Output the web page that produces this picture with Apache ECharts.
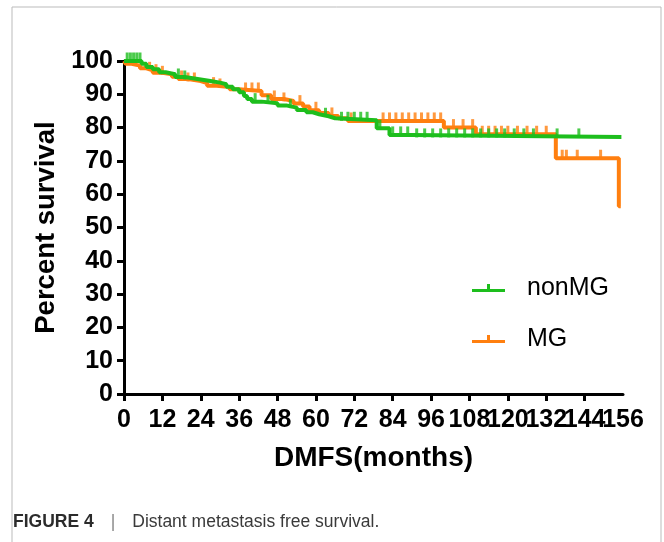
<!DOCTYPE html>
<html>
<head>
<meta charset="utf-8">
<script src="https://cdn.jsdelivr.net/npm/echarts@6/dist/echarts.min.js"></script>
<style>
html,body{margin:0;padding:0;background:#fff;}
#chart{width:664px;height:542px;}
</style>
</head>
<body>
<div id="chart"></div>
<script>
// ---- data ----
const nonMGTimes = [0, 5.5, 7, 9, 11, 13, 16, 19, 23, 27, 30, 32, 34, 36, 37.5, 38.5, 40, 43, 48, 51, 54, 57, 59, 61, 64, 66, 79, 83, 90, 155.5];
const nonMGSurv  = [100, 99.2, 98.2, 97.5, 96.6, 96, 95.2, 94.6, 94, 93.5, 93, 92.3, 91.5, 90.6, 89.5, 88.6, 87.8, 87.3, 86.6, 86, 85.3, 84.6, 84, 83.4, 82.8, 82.2, 79.8, 77.8, 77.2, 77.2];
const nonMGCensor = [1, 2, 3, 4, 5, 17, 19, 41, 45, 52, 63, 68, 70, 72, 74, 76, 80, 84, 86.5, 88.7, 91.5, 94, 96.5, 99, 101.5, 104, 106.5, 109, 111.5, 114, 116.5, 119, 122, 125, 128, 135.4, 142.2];

const mgTimes = [0, 0.5, 2, 5, 7, 9, 12, 15, 17, 20, 24, 26, 29, 33, 36, 43, 46, 50, 53, 56, 58, 61, 64, 67, 70, 100, 110, 135, 154.7, 155.3];
const mgSurv  = [100, 99.2, 98.6, 97.8, 97.2, 96.5, 96, 95.3, 94.6, 94, 93.4, 92.6, 92.2, 91.5, 91, 89.7, 88.6, 88, 87.2, 86.3, 85.2, 84.4, 83.5, 82.8, 82.0, 80.0, 78, 70.8, 56.4, 56.4];
const mgCensor = [8, 10, 12, 18, 20, 22, 28, 30, 38, 40, 42, 47, 50, 55, 60, 65, 71, 81, 83, 85, 87, 89, 91, 93, 95, 97, 99, 103, 106, 109, 112, 114, 116, 118, 120, 123, 126, 129, 132, 137, 138.3, 141.7, 149];

const seriesNames = ['nonMG', 'MG'];
const xMin = 0, xMax = 156, xStep = 12;
const yMin = 0, yMax = 100, yStep = 10;
const xTitle = 'DMFS(months)';
const yTitle = 'Percent survival';
const captionBold = 'FIGURE 4';
const captionText = 'Distant metastasis free survival.';

const GREEN = '#1DBE1D';
const ORANGE = '#FF7F0F';

function pairs(ts, ss) { return ts.map((t, i) => [t, ss[i]]); }
function survAt(ts, ss, t) {
  let v = ss[0];
  for (let i = 0; i < ts.length; i++) { if (ts[i] <= t) v = ss[i]; }
  return v;
}
function censorPts(ts, ss, cs) { return cs.map(t => [t, survAt(ts, ss, t)]); }

const chart = echarts.init(document.getElementById('chart'), null, {renderer: 'canvas'});
const FONT = 'Liberation Sans, Arial, sans-serif';
const legendIcon = 'path://M0,5h33v3h-33z M15,0h3v5h-3z';
const xLabelStyle = {fontSize: 25, fontWeight: 'bold', fontFamily: FONT, color: '#000', margin: 14, hideOverlap: false};

chart.setOption({
  backgroundColor: '#fff',
  animation: false,
  grid: {left: 124, right: 41, top: 61, bottom: 148},
  title: {
    left: 13, top: 513, padding: 0,
    text: '{b|' + captionBold + '}{s||}{n|' + captionText + '}',
    textStyle: {
      fontSize: 17.5, fontFamily: FONT, color: '#333', fontWeight: 'normal',
      rich: {
        b: {fontWeight: 'bold', fontSize: 17.5, fontFamily: FONT, color: '#2b2b2b'},
        s: {fontWeight: 'normal', fontSize: 17.5, color: '#888', fontFamily: FONT, padding: [0, 17, 0, 17]},
        n: {fontWeight: 'normal', fontSize: 17.5, color: '#3a3a3a', fontFamily: FONT}
      }
    }
  },
  graphic: [{
    type: 'rect', silent: true, z: -1,
    shape: {x: 12, y: 7, width: 649, height: 560},
    style: {fill: 'none', stroke: '#bbb', lineWidth: 1}
  }],
  legend: {
    orient: 'vertical', left: 467, top: 268,
    itemWidth: 33, itemHeight: 8, itemGap: 21,
    data: [
      {name: seriesNames[0], icon: legendIcon},
      {name: seriesNames[1], icon: legendIcon}
    ],
    textStyle: {fontSize: 25, fontFamily: FONT, color: '#000', padding: [0, 0, 0, 17], lineHeight: 30}
  },
  xAxis: [{
    type: 'value', position: 'bottom', min: xMin, max: xMax, interval: xStep,
    name: xTitle, nameLocation: 'middle', nameGap: 50,
    nameTextStyle: {fontSize: 28, fontWeight: 'bold', fontFamily: FONT, color: '#000'},
    axisLine: {lineStyle: {color: '#000', width: 3}},
    axisTick: {length: 7, lineStyle: {color: '#000', width: 3}},
    axisLabel: Object.assign({showMinLabel: true, showMaxLabel: false}, xLabelStyle),
    splitLine: {show: false}
  }, {
    type: 'value', position: 'bottom', offset: 0, min: xMin, max: xMax, interval: xStep,
    axisLine: {show: false}, axisTick: {show: false}, splitLine: {show: false},
    axisLabel: Object.assign({showMinLabel: false, showMaxLabel: true,
      formatter: v => (v === xMax ? String(v) : '')}, xLabelStyle)
  }],
  yAxis: {
    type: 'value', min: yMin, max: yMax, interval: yStep,
    name: yTitle, nameLocation: 'middle', nameGap: 64, nameRotate: 90,
    nameTextStyle: {fontSize: 27.5, fontWeight: 'bold', fontFamily: FONT, color: '#000'},
    axisLine: {show: true, lineStyle: {color: '#000', width: 3}},
    axisTick: {show: true, length: 7, lineStyle: {color: '#000', width: 3}},
    axisLabel: {fontSize: 25, fontWeight: 'bold', fontFamily: FONT, color: '#000', margin: 11,
                showMinLabel: true, showMaxLabel: true, hideOverlap: false},
    splitLine: {show: false}
  },
  series: [
    {
      name: seriesNames[1], type: 'line', step: 'end', showSymbol: false,
      data: pairs(mgTimes, mgSurv), color: ORANGE,
      lineStyle: {width: 4, color: ORANGE}, z: 2
    },
    {
      name: seriesNames[1], type: 'scatter', symbol: 'rect', symbolSize: [3, 9], symbolOffset: [0, -4],
      data: censorPts(mgTimes, mgSurv, mgCensor), itemStyle: {color: ORANGE}, z: 2
    },
    {
      name: seriesNames[0], type: 'line', step: 'end', showSymbol: false,
      data: pairs(nonMGTimes, nonMGSurv), color: GREEN,
      lineStyle: {width: 4, color: GREEN}, z: 3
    },
    {
      name: seriesNames[0], type: 'scatter', symbol: 'rect', symbolSize: [3, 9], symbolOffset: [0, -4],
      data: censorPts(nonMGTimes, nonMGSurv, nonMGCensor), itemStyle: {color: GREEN}, z: 3
    }
  ]
});
</script>
</body>
</html>
